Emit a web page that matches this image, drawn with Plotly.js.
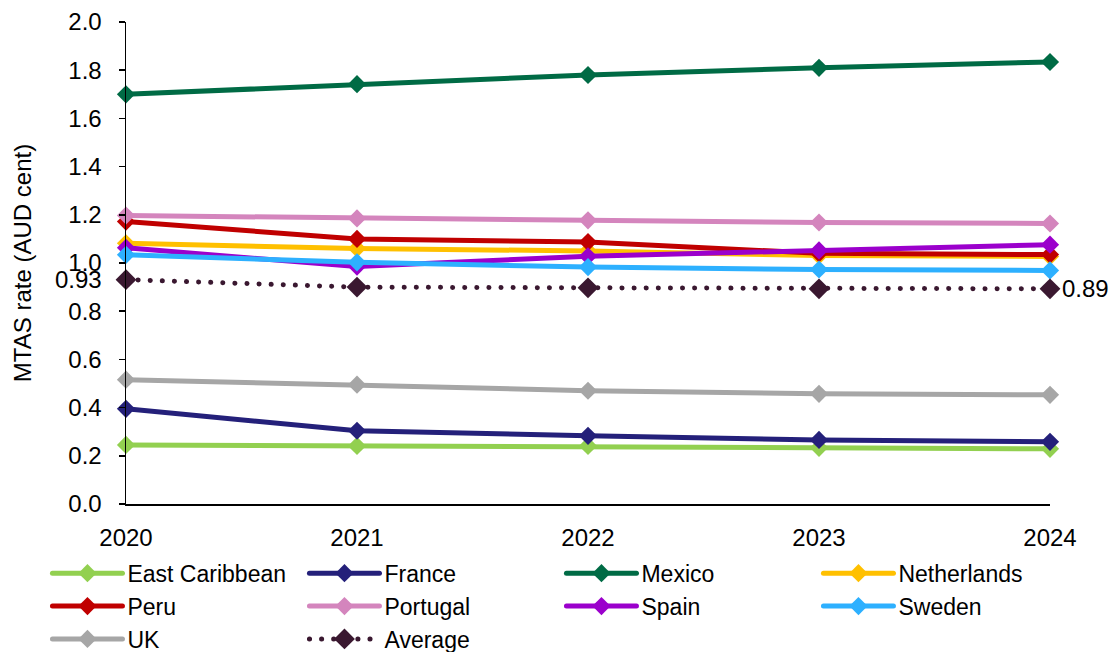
<!DOCTYPE html>
<html>
<head>
<meta charset="utf-8">
<script src="https://cdn.plot.ly/plotly-3.0.1.min.js"></script>
<style>
html,body{margin:0;padding:0;background:#fff;}
#chart{width:1120px;height:652px;}
.scatterlayer .js-line, .legendlines path{stroke-linecap:round;stroke-linejoin:round;}
</style>
</head>
<body>
<div id="chart"></div>
<script>
var years = [2020, 2021, 2022, 2023, 2024];
var eastCaribbean = [0.245, 0.241, 0.241, 0.233, 0.229];
var france = [0.395, 0.304, 0.283, 0.266, 0.258];
var mexico = [1.70, 1.742, 1.78, 1.81, 1.834];
var netherlands = [1.082, 1.06, 1.05, 1.031, 1.027];
var peru = [1.172, 1.10, 1.087, 1.04, 1.035];
var portugal = [1.197, 1.185, 1.177, 1.168, 1.164];
var spain = [1.063, 0.985, 1.028, 1.052, 1.076];
var sweden = [1.034, 1.003, 0.983, 0.973, 0.969];
var uk = [0.516, 0.495, 0.47, 0.457, 0.453];
var average = [0.931, 0.90, 0.897, 0.893, 0.893];

var FONT = "Liberation Sans, Arial, sans-serif";

function series(name, y, color) {
  return {
    type: 'scatter', mode: 'lines+markers', name: name, x: years, y: y,
    line: {color: color, width: 5},
    marker: {symbol: 'diamond', size: 14, color: color},
    cliponaxis: false
  };
}

var data = [
  series('East Caribbean', eastCaribbean, '#92D050'),
  series('France', france, '#24207A'),
  series('Mexico', mexico, '#006B45'),
  series('Netherlands', netherlands, '#FFC000'),
  series('Peru', peru, '#C00000'),
  series('Portugal', portugal, '#D485BD'),
  series('Spain', spain, '#9B00CC'),
  series('Sweden', sweden, '#2DB0FF'),
  series('UK', uk, '#A6A6A6'),
  {
    type: 'scatter', mode: 'lines+markers', name: 'Average', x: years, y: average,
    line: {color: '#3A1830', width: 5, dash: '0.1px,12px'},
    marker: {symbol: 'diamond', size: 16, color: '#3A1830'},
    cliponaxis: false
  }
];

var layout = {
  width: 1120, height: 652,
  margin: {l: 126, r: 70, t: 22, b: 148, autoexpand: false},
  paper_bgcolor: '#fff', plot_bgcolor: '#fff',
  font: {family: FONT, size: 23, color: '#000'},
  showlegend: true,
  xaxis: {
    range: [2020, 2024], tickvals: years, ticktext: years.map(String),
    showgrid: false, zeroline: false, showline: true, linecolor: '#000', linewidth: 1.5,
    ticks: '', ticklabelstandoff: 12,
    tickfont: {family: FONT, size: 24, color: '#000'}
  },
  yaxis: {
    range: [0, 2], dtick: 0.2, tickformat: '.1f',
    showgrid: false, zeroline: false, showline: true, linecolor: '#000', linewidth: 1.5,
    ticks: 'outside', ticklen: 6, tickcolor: '#000', tickwidth: 1.5, ticklabelstandoff: 12,
    tickfont: {family: FONT, size: 24, color: '#000'},
    title: {text: 'MTAS rate (AUD cent)', font: {family: FONT, size: 24, color: '#000'}, standoff: 30}
  },
  legend: {
    orientation: 'h', x: -0.085, xanchor: 'left', y: -0.099, yanchor: 'top',
    font: {family: FONT, size: 23, color: '#000'},
    entrywidth: 172, entrywidthmode: 'pixels', itemwidth: 70,
    bgcolor: 'rgba(0,0,0,0)'
  },
  annotations: [
    {x: years[0], y: average[0], xref: 'x', yref: 'y', text: average[0].toFixed(2), showarrow: false,
     xanchor: 'right', xshift: -22, font: {family: FONT, size: 24, color: '#000'}},
    {x: years[4], y: average[4], xref: 'x', yref: 'y', text: average[4].toFixed(2), showarrow: false,
     xanchor: 'left', xshift: 10, font: {family: FONT, size: 24, color: '#000'}}
  ]
};

Plotly.newPlot('chart', data, layout, {displayModeBar: false, staticPlot: true});
</script>
</body>
</html>
